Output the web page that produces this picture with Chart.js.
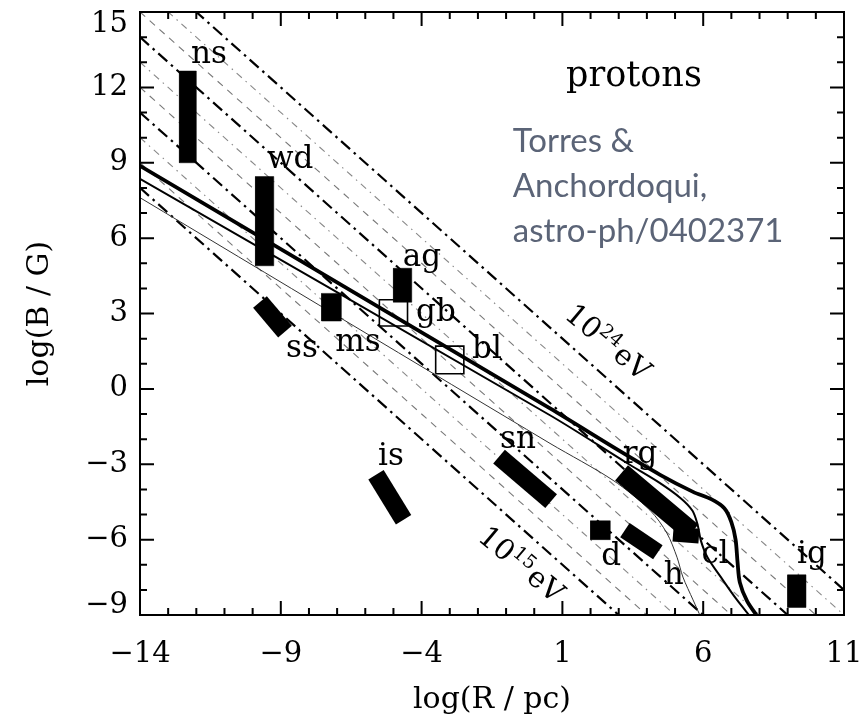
<!DOCTYPE html>
<html><head><meta charset="utf-8">
<script src="https://cdn.jsdelivr.net/npm/chart.js@4.4.0/dist/chart.umd.min.js"></script>
<style>html,body{margin:0;padding:0;background:#fff}#c{display:block}</style>
</head><body>
<canvas id="c" width="864" height="718"></canvas>
<script>
// ---------- data ----------
const xMin = -14, xMax = 11, yMin = -9, yMax = 15;
const xTicks = [-14, -9, -4, 1, 6, 11];
const yTicks = [-9, -6, -3, 0, 3, 6, 9, 12, 15];

// Hillas lines: log10(E/eV); log B = log E - 21 - log R
const energyExponents = [15, 16, 17, 18, 19, 20, 21, 22, 23, 24];
const lineR = [-14, 11];

// loss-limit curves
const thickR = [-14, 0.56, 3.0, 4.47, 5.64, 6.30, 6.75, 7.0, 7.15, 7.22, 7.30, 7.56, 7.95];
const thickB = [8.88, -0.78, -2.45, -3.42, -4.10, -4.40, -4.75, -5.30, -6.00, -6.90, -7.70, -8.45, -9.1];
const mediumR = [-14, 0.56, 3.29, 4.4, 5.20, 5.62, 5.80, 5.92, 6.15, 6.70, 7.20, 7.70];
const mediumB = [8.36, -1.05, -2.95, -3.70, -4.35, -4.85, -5.40, -6.05, -6.70, -7.61, -8.40, -9.1];
const thinR = [-14, 0.56, 2.80, 4.11, 4.71, 5.07, 5.28, 5.64, 5.92];
const thinB = [7.61, -2.17, -3.64, -4.83, -5.74, -6.70, -7.49, -8.40, -9.1];

// objects drawn as filled boxes (log R range, log B range)
const boxNames = ['ns', 'wd', 'ag', 'ms', 'd', 'ig'];
const boxRmin = [-12.6, -9.9, -5.0, -7.55, 2.0, 9.0];
const boxRmax = [-12.0, -9.25, -4.35, -6.85, 2.7, 9.65];
const boxBmin = [9.0, 4.9, 3.45, 2.7, -6.0, -8.7];
const boxBmax = [12.65, 8.45, 4.8, 3.8, -5.25, -7.4];

// objects drawn as open boxes
const openNames = ['gb', 'bl'];
const openRmin = [-5.5, -3.5];
const openRmax = [-4.5, -2.5];
const openBmin = [2.5, 0.6];
const openBmax = [3.55, 1.7];

// objects drawn as slanted bars (start and end in log R, log B)
const barNames = ['ss', 'is', 'sn', 'h', 'rg', 'cl'];
const barR1 = [-9.74, -5.62, -1.25, 3.22, 3.10, 4.93];
const barB1 = [3.46, -3.42, -2.70, -5.62, -3.34, -5.78];
const barR2 = [-8.85, -4.64, 0.60, 4.39, 5.60, 5.85];
const barB2 = [2.28, -5.21, -4.47, -6.50, -5.70, -5.86];

// text labels (anchor at baseline centre)
const labelText = ['ns', 'wd', 'ag', 'gb', 'ms', 'ss', 'bl', 'is', 'sn', 'rg', 'd', 'h', 'cl', 'ig'];
const labelR = [-11.55, -8.67, -3.99, -3.49, -6.26, -8.25, -1.68, -5.09, -0.58, 3.76, 2.73, 4.95, 6.42, 9.86];
const labelB = [12.97, 8.80, 4.91, 2.72, 1.50, 1.25, 1.21, -3.04, -2.37, -2.96, -7.01, -7.75, -6.93, -6.93];

const energyLabelExp = ['15', '24'];
const energyLabelR = [-0.50, 2.58];
const energyLabelB = [-7.05, 1.80];

const titleText = 'protons';
const titleR = 3.54, titleB = 12.05;
const creditLines = ['Torres &', 'Anchordoqui,', 'astro-ph/0402371'];
const creditR = -0.76;
const creditB = [9.41, 7.62, 5.84];

// ---------- build datasets ----------
const SERIF = '"DejaVu Serif", "Liberation Serif", serif';
const datasets = [];
energyExponents.forEach(e => {
  const s = e - 21;
  let style;
  if (s % 3 === 0) style = {borderColor: '#000', borderWidth: 2.2, borderDash: [12, 5, 2.5, 5]};
  else if (e % 3 === 1) style = {borderColor: '#777', borderWidth: 1.1, borderDash: [7, 6]};
  else style = {borderColor: '#888', borderWidth: 1.1, borderDash: [7, 5, 1.5, 5]};
  datasets.push(Object.assign({
    label: '1e' + e + ' eV',
    data: lineR.map(r => ({x: r, y: s - r})),
    pointRadius: 0, fill: false, order: 3
  }, style));
});
function curve(R, B, w, col) {
  return {data: R.map((r, i) => ({x: r, y: B[i]})), borderColor: col, borderWidth: w,
          pointRadius: 0, fill: false, order: 2, tension: 0.3};
}
datasets.push(curve(thickR, thickB, 3.8, '#000'));
datasets.push(curve(mediumR, mediumB, 2.0, '#000'));
datasets.push(curve(thinR, thinB, 1.0, '#333'));

boxNames.forEach((n, i) => {
  const a = boxRmin[i], b = boxRmax[i], c = boxBmin[i], d = boxBmax[i];
  datasets.push({label: n, data: [{x: a, y: c}, {x: b, y: c}, {x: b, y: d}, {x: a, y: d}, {x: a, y: c}],
    borderColor: '#000', borderWidth: 0.5, backgroundColor: '#000', fill: 'shape', pointRadius: 0, order: 1});
});
openNames.forEach((n, i) => {
  const a = openRmin[i], b = openRmax[i], c = openBmin[i], d = openBmax[i];
  datasets.push({label: n, data: [{x: a, y: c}, {x: b, y: c}, {x: b, y: d}, {x: a, y: d}, {x: a, y: c}],
    borderColor: '#000', borderWidth: 1.6, fill: false, pointRadius: 0, order: 1});
});
const barWidths = {ss: 18, is: 18, sn: 18, h: 17, rg: 20, cl: 15};
barNames.forEach((n, i) => {
  datasets.push({label: n, data: [{x: barR1[i], y: barB1[i]}, {x: barR2[i], y: barB2[i]}],
    borderColor: '#000', borderWidth: barWidths[n], borderCapStyle: 'butt', fill: false, pointRadius: 0, order: 1});
});

// ---------- decoration plugin ----------
const decor = {
  id: 'decor',
  afterDatasetsDraw(chart) {
    const {ctx, chartArea: A, scales: {x, y}} = chart;
    ctx.save();
    ctx.strokeStyle = '#000';
    ctx.lineWidth = 2;
    ctx.strokeRect(A.left, A.top, A.right - A.left, A.bottom - A.top);
    ctx.beginPath();
    for (let v = xMin + 1; v < xMax; v++) {
      const p = x.getPixelForValue(v);
      const len = (v - xMin) % 5 === 0 ? 14 : 7;
      ctx.moveTo(p, A.bottom); ctx.lineTo(p, A.bottom - len);
      ctx.moveTo(p, A.top); ctx.lineTo(p, A.top + len);
    }
    for (let v = yMin + 1; v < yMax; v++) {
      const p = y.getPixelForValue(v);
      const len = (v - yMin) % 3 === 0 ? 14 : 7;
      ctx.moveTo(A.left, p); ctx.lineTo(A.left + len, p);
      ctx.moveTo(A.right, p); ctx.lineTo(A.right - len, p);
    }
    ctx.stroke();

    ctx.fillStyle = '#000';
    ctx.textAlign = 'center';
    ctx.textBaseline = 'alphabetic';
    ctx.font = '31px ' + SERIF;
    labelText.forEach((t, i) => ctx.fillText(t, x.getPixelForValue(labelR[i]), y.getPixelForValue(labelB[i])));
    ctx.font = '35px ' + SERIF;
    ctx.fillText(titleText, x.getPixelForValue(titleR), y.getPixelForValue(titleB));

    // energy labels along lines
    energyLabelExp.forEach((ex, i) => {
      ctx.save();
      ctx.translate(x.getPixelForValue(energyLabelR[i]), y.getPixelForValue(energyLabelB[i]));
      ctx.rotate(40 * Math.PI / 180);
      const big = '29px ' + SERIF, small = '19px ' + SERIF;
      ctx.font = big; const w1 = ctx.measureText('10').width, w3 = ctx.measureText('eV').width;
      ctx.font = small; const w2 = ctx.measureText(ex).width;
      let sx = -(w1 + w2 + w3 + 2) / 2;
      ctx.textAlign = 'left'; ctx.textBaseline = 'middle';
      ctx.font = big; ctx.fillText('10', sx, 0); sx += w1;
      ctx.font = small; ctx.fillText(ex, sx, -8); sx += w2 + 2;
      ctx.font = big; ctx.fillText('eV', sx, 0);
      ctx.restore();
    });

    ctx.fillStyle = '#5b6477';
    ctx.textAlign = 'left';
    ctx.font = '33px Lato, "Open Sans", sans-serif';
    creditLines.forEach((t, i) => ctx.fillText(t, x.getPixelForValue(creditR), y.getPixelForValue(creditB[i])));
    ctx.restore();
  }
};

const fmt = v => (v < 0 ? '\u2212' + Math.abs(v) : String(v));

new Chart(document.getElementById('c'), {
  type: 'line',
  data: {datasets},
  plugins: [decor],
  options: {
    responsive: false,
    animation: false,
    devicePixelRatio: 1,
    layout: {padding: {top: 12, right: 20, left: 0, bottom: 0}},
    plugins: {legend: {display: false}, tooltip: {enabled: false}, filler: {drawTime: 'beforeDatasetDraw'}},
    scales: {
      x: {
        type: 'linear', min: xMin, max: xMax,
        afterBuildTicks: s => { s.ticks = xTicks.map(v => ({value: v})); },
        afterFit: s => { s.height = 103; s.paddingLeft = 0; s.paddingRight = 0; },
        grid: {display: false, drawTicks: false},
        border: {display: true, color: '#000', width: 2},
        ticks: {callback: fmt, color: '#000', padding: 22, maxRotation: 0, autoSkip: false,
                font: {family: SERIF, size: 29}},
        title: {display: true, text: 'log(R / pc)', color: '#000', font: {family: SERIF, size: 30},
                padding: {top: 0, bottom: 0}}
      },
      y: {
        type: 'linear', min: yMin, max: yMax,
        afterBuildTicks: s => { s.ticks = yTicks.map(v => ({value: v})); },
        afterFit: s => { s.width = 140; s.paddingTop = 0; s.paddingBottom = 0; },
        grid: {display: false, drawTicks: false},
        border: {display: true, color: '#000', width: 2},
        ticks: {
          callback: v => (v === yMax ? ['', fmt(v)] : v === yMin ? [fmt(v), ''] : fmt(v)),
          color: '#000', padding: 12, autoSkip: false,
          font: ctx => ({family: SERIF, size: 29,
                         lineHeight: ctx.tick && ctx.tick.value === yMax ? 0.87 : (ctx.tick && ctx.tick.value === yMin ? 0.67 : 1.2)})
        },
        title: {display: true, text: 'log(B / G)', color: '#000', font: {family: SERIF, size: 30},
                padding: {top: 22, bottom: 22}}
      }
    }
  }
});
</script>
</body></html>
